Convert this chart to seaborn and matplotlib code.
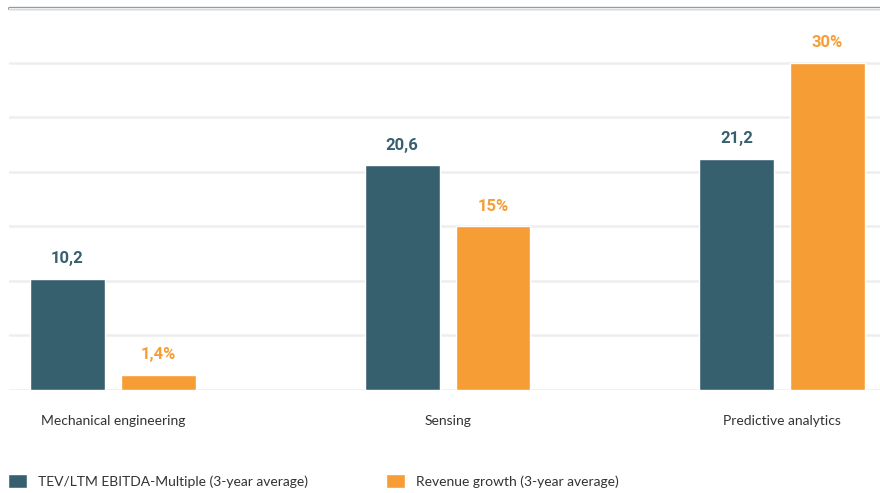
import matplotlib
matplotlib.use("Agg")
import matplotlib.pyplot as plt
import seaborn as sns
import pandas as pd
import numpy as np

categories = ["Mechanical engineering", "Sensing", "Predictive analytics"]
series_names = ["TEV/LTM EBITDA-Multiple (3-year average)", "Revenue growth (3-year average)"]
ebitda_multiple = [10.2, 20.6, 21.2]
revenue_growth = [1.4, 15, 30]
ebitda_labels = ["10,2", "20,6", "21,2"]
growth_labels = ["1,4%", "15%", "30%"]
colors = ["#37606F", "#F79D35"]

df = pd.DataFrame({
    "category": categories * 2,
    "series": [series_names[0]] * 3 + [series_names[1]] * 3,
    "value": ebitda_multiple + revenue_growth,
})

sns.set_theme(style="white")
plt.rcParams["font.family"] = ["Lato", "DejaVu Sans"]

fig = plt.figure(figsize=(8.8, 4.93), dpi=100)
W, H = 880, 493
ax = fig.add_axes([9 / W, (H - 390) / H, (880 - 9) / W, (390 - 8) / H])

sns.barplot(data=df, x="category", y="value", hue="series", order=categories,
            hue_order=series_names, palette=colors, width=0.544, gap=0.176,
            saturation=1, ax=ax, legend=True)

ax.set_ylim(0, 35)
ax.set_xlim(-0.311, 2.293)
ax.set_yticks(np.arange(0, 36, 5))
ax.set_yticklabels([])
ax.tick_params(axis="y", length=0)
ax.yaxis.grid(True, color="#EEEEEE", linewidth=1.8)
ax.set_axisbelow(True)
ax.axhline(35, color="#8E9EA9", linewidth=2.4, zorder=0.5, clip_on=False)
for s in ax.spines.values():
    s.set_visible(False)
ax.set_xlabel("")
ax.set_ylabel("")
ax.tick_params(axis="x", length=0, pad=18, labelsize=10, labelcolor="#333333")

label_sets = [ebitda_labels, growth_labels]
for container, labels, col in zip(ax.containers, label_sets, colors):
    ax.bar_label(container, labels=labels, padding=9, color=col,
                 fontsize=12, fontweight="bold", family=["Roboto", "DejaVu Sans"])

handles, lbls = ax.get_legend_handles_labels()
ax.legend(handles, lbls, loc="lower left", bbox_to_anchor=(8 / W, 5 / H),
          bbox_transform=fig.transFigure, ncol=2, frameon=False,
          borderpad=0, borderaxespad=0,
          handlelength=1.37, handleheight=1.2, handletextpad=0.8,
          columnspacing=5.6, fontsize=10, labelcolor="#333333")

fig.savefig("out.png", dpi=100)
